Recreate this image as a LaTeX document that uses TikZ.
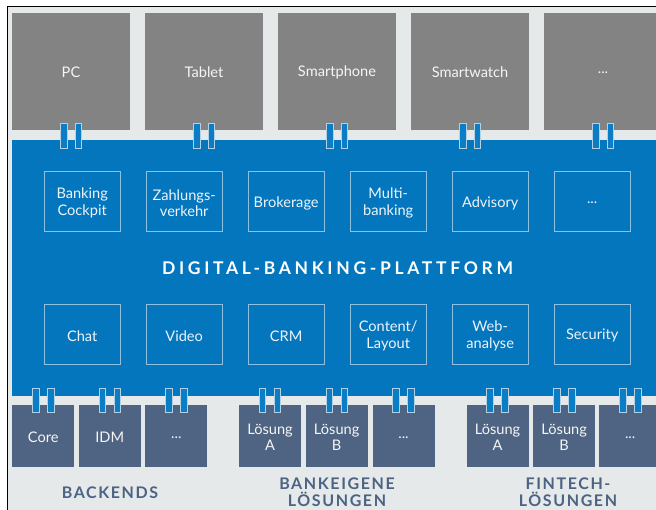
\documentclass[tikz,border=0pt]{standalone}
\usepackage{fontspec}
\setmainfont{Lato}
\newfontfamily\titlefont[LetterSpace=21]{Lato}
\newfontfamily\groupfont[LetterSpace=10]{Lato}
\newcommand\mydots{...}
\definecolor{bgc}{HTML}{E5E9E9}
\definecolor{devgray}{HTML}{838383}
\definecolor{platblue}{HTML}{0476BE}
\definecolor{slate}{HTML}{4E6482}
\definecolor{clipfill}{HTML}{0A7DC5}
\definecolor{clipline}{HTML}{B3D1E4}
\definecolor{modline}{HTML}{8FC0E2}
\definecolor{modtext}{HTML}{EEF4F9}
\definecolor{grouptext}{HTML}{4D6384}
\tikzset{
  device/.style={fill=devgray, minimum width=118pt, minimum height=117.5pt, inner sep=0pt},
  module/.style={draw=modline, line width=0.9pt, minimum width=76.5pt, minimum height=60pt, inner sep=0pt},
  backend/.style={fill=slate, minimum width=62pt, minimum height=61.7pt, inner sep=0pt},
  boxtext/.style={inner sep=0pt, text=white!92!gray, font=\fontsize{14.6}{16.5}\selectfont, align=center},
  modtextstyle/.style={boxtext, text=modtext},
  clipbar/.style={fill=clipfill, draw=clipline, line width=0.8pt, minimum width=6.5pt, inner sep=0pt},
  grouplabel/.style={text=grouptext, font=\groupfont\bfseries\fontsize{16}{17.5}\selectfont, align=center, inner sep=0pt}
}
\begin{document}
\begin{tikzpicture}[x=1pt,y=-1pt]
\useasboundingbox (0,0) rectangle (656,509);
\clip (0,0) rectangle (656,509);
\fill[white] (0,0) rectangle (656,509);
\draw[fill=bgc, line width=1.4pt] (7.3,6.7) rectangle (720,560);
% devices
\foreach \name/\lbl [count=\i from 0] in {pc/PC, tablet/Tablet, phone/Smartphone, watch/Smartwatch, devmore/\mydots}{
  \node[device] (\name) at ({71+133*\i}, 71.4) {};
  \node[boxtext] (\name-t) at ([yshift=-1pt]\name.center) {\lbl};
}
% platform
\node[fill=platblue, minimum width=700pt, minimum height=255.5pt, inner sep=0pt, anchor=north west] (platform) at (12,140) {};
\node[text=white, font=\titlefont\bfseries\fontsize{17.5}{20}\selectfont, inner sep=0pt] (ptitle) at (337.5,268) {DIGITAL-BANKING-PLATTFORM};
% modules
\foreach \name/\lbl [count=\i from 0] in {cockpit/{Banking\\Cockpit}, zahlung/{Zahlungs-\\verkehr}, broker/Brokerage, multi/{Multi-\\banking}, advisory/Advisory, modmore/\mydots}{
  \node[module] (\name) at ({82.2+102*\i}, 201.6) {};
  \node[modtextstyle] (\name-t) at ([yshift=-1.5pt]\name.center) {\lbl};
}
\foreach \name/\lbl [count=\i from 0] in {chat/Chat, video/Video, crm/CRM, content/{Content/\\Layout}, web/{Web-\\analyse}, security/Security}{
  \node[module] (\name) at ({82.2+102*\i}, 334.4) {};
  \node[modtextstyle] (\name-t) at ([yshift=-1.5pt]\name.center) {\lbl};
}
% backends
\foreach \name/\lbl/\x in {core/Core/43.2, idm/IDM/109.7, bemore/\mydots/176.3,
  bla/{Lösung\\A}/270, blb/{Lösung\\B}/336.7, blmore/\mydots/403.5,
  fla/{Lösung\\A}/497.5, flb/{Lösung\\B}/564.2, flmore/\mydots/630.2}{
  \node[backend] (\name) at (\x, 436) {};
  \node[boxtext] (\name-t) at ([yshift=-1.5pt]\name.center) {\lbl};
}
% clips top
\foreach \name in {pc, tablet, phone, watch, devmore}{
  \node[clipbar, minimum height=25pt] (\name-l) at ([xshift=-7.3pt] \name.south |- 0,135.7) {};
  \node[clipbar, minimum height=25pt] (\name-r) at ([xshift=7.3pt] \name.south |- 0,135.7) {};
}
% clips bottom
\foreach \name in {core, idm, bemore, bla, blb, blmore, fla, flb, flmore}{
  \node[clipbar, minimum height=24pt] (\name-l) at ([xshift=-7.5pt] \name.north |- 0,400.3) {};
  \node[clipbar, minimum height=24pt] (\name-r) at ([xshift=7.5pt] \name.north |- 0,400.3) {};
}
% group labels
\node[grouplabel] (gback) at (110,493) {BACKENDS};
\node[grouplabel] (gbank) at (337,492.3) {BANKEIGENE\\LÖSUNGEN};
\node[grouplabel] (gfin) at (568,492.3) {FINTECH-\\LÖSUNGEN};
\end{tikzpicture}
\end{document}
